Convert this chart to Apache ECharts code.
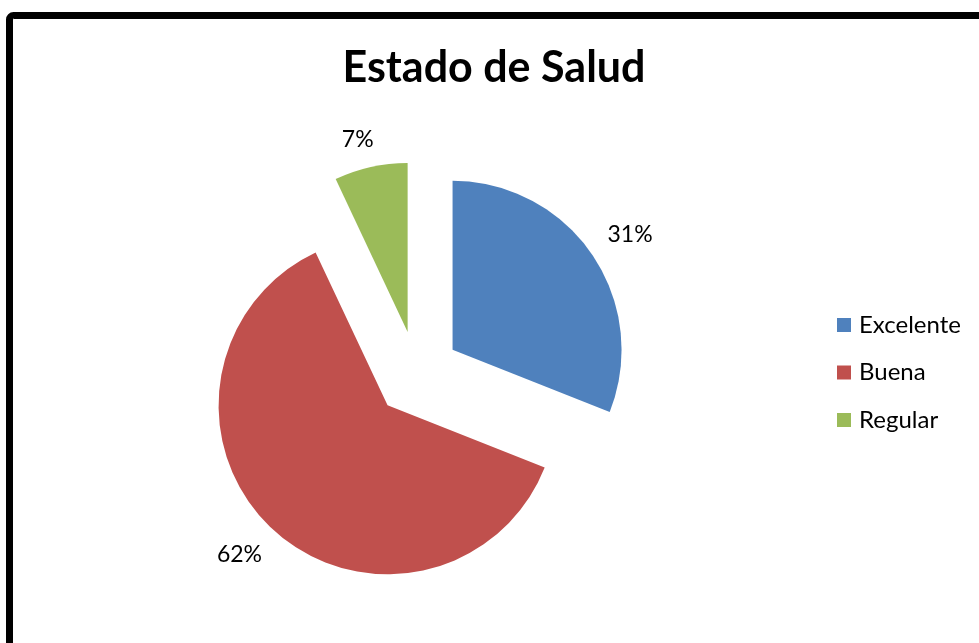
<!DOCTYPE html>
<html>
<head>
<meta charset="utf-8">
<script src="https://cdn.jsdelivr.net/npm/echarts@6/dist/echarts.min.js"></script>
<style>
  html, body { margin: 0; padding: 0; background: #fff; }
  #plot { width: 979px; height: 643px; }
</style>
</head>
<body>
<div id="plot"></div>
<script>
const categories = ['Excelente', 'Buena', 'Regular'];
const values = [31, 62, 7];
const colors = ['#4F81BD', '#C0504D', '#9BBB59'];

const pieCenter = [417, 374];
const measureCtx = document.createElement('canvas').getContext('2d');
measureCtx.font = '23px Lato';

const chart = echarts.init(document.getElementById('plot'));

const option = {
    backgroundColor: '#fff',
    animation: false,
    title: {
        text: 'Estado de Salud',
        left: 489,
        top: 42,
        textAlign: 'center',
        textStyle: { fontFamily: 'Lato', fontWeight: 'bold', fontSize: 43, color: '#000' }
    },
    legend: {
        orient: 'vertical',
        left: 832,
        top: 308,
        icon: 'rect',
        itemWidth: 14,
        itemHeight: 14,
        itemGap: 23.5,
        selectedMode: false,
        textStyle: { fontFamily: 'Lato', fontSize: 24, color: '#000', padding: [0, 0, 0, 3] },
        data: categories
    },
    graphic: [{
        type: 'rect',
        shape: { x: 9.5, y: 15.5, width: 1000, height: 700, r: 4 },
        style: { fill: 'none', stroke: '#000', lineWidth: 7 },
        silent: true
    }],
    series: [{
        type: 'pie',
        center: pieCenter,
        radius: 169,
        startAngle: 90,
        selectedMode: 'multiple',
        selectedOffset: 43,
        avoidLabelOverlap: false,
        label: {
            position: 'outside',
            formatter: '{d}%',
            fontFamily: 'Lato',
            fontSize: 23,
            color: '#000'
        },
        // invisible guide line, its end is the label anchor
        labelLine: { show: true, length: 13, length2: 0, lineStyle: { width: 0, opacity: 0 } },
        labelLayout: params => {
            const r = params.labelRect;
            let dx = r.x + r.width / 2 - pieCenter[0];
            let dy = r.y + r.height / 2 - pieCenter[1];
            const len = Math.hypot(dx, dy) || 1;
            dx /= len; dy /= len;
            // push the label box out so that all of it clears the arc
            const w = measureCtx.measureText(params.text).width;
            const half = Math.abs(dx) * w / 2 + Math.abs(dy) * 23 / 2;
            return {
                dx: dx * half,
                dy: dy * half,
                align: 'center',
                verticalAlign: 'middle'
            };
        },
        emphasis: { disabled: true },
        data: categories.map((name, i) => ({
            name: name,
            value: values[i],
            selected: true,
            itemStyle: { color: colors[i] }
        }))
    }]
};

chart.setOption(option);
</script>
</body>
</html>
